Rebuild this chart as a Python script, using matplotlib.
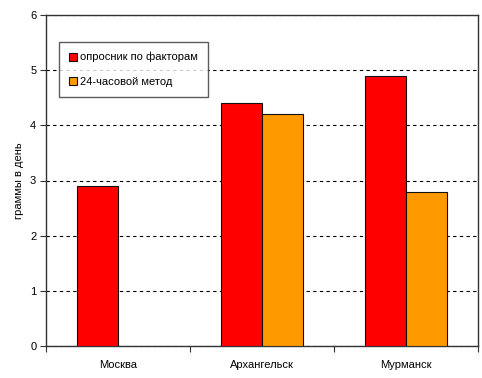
"""Bar chart: grams per day by city, two methods"""
import numpy as np
import matplotlib as mat
mat.use('agg')
import matplotlib.pyplot as plt

plt.rcParams['font.family'] = ['Liberation Sans', 'DejaVu Sans']

cities = ['Москва', 'Архангельск', 'Мурманск']
survey = [2.9, 4.4, 4.9]          # опросник по факторам
recall24 = [0, 4.2, 2.8]          # 24-часовой метод
yticks = [0, 1, 2, 3, 4, 5, 6]

fig = plt.figure(figsize=(4.82, 3.78), dpi=100)
ax = fig.add_axes([46 / 482, 1 - 346 / 378, 432 / 482, 331 / 378])

x = np.arange(len(cities))
w = 0.285
ax.bar(x - w / 2, survey, w, color='#FF0000', edgecolor='#111111',
       linewidth=0.8, label='опросник по факторам', zorder=3)
# Moscow has no 24-hour value, so draw only the cities that have one
ax.bar(x[1:] + w / 2, recall24[1:], w, color='#FF9900', edgecolor='#111111',
       linewidth=0.8, label='24-часовой метод', zorder=3)

ax.set_xlim(-0.5, 2.5)
ax.set_ylim(0, 6)
ax.set_yticks(yticks)
ax.set_xticks(x)
ax.set_xticklabels(cities, fontsize=8)
ax.tick_params(axis='x', length=0, pad=10)
ax.set_xticks([-0.5, 0.5, 1.5, 2.5], minor=True)
ax.tick_params(axis='x', which='minor', length=4, width=0.8, color='#333333')
ax.tick_params(axis='y', labelsize=8, length=4, width=0.8, color='#333333', pad=3)

for s in ax.spines.values():
    s.set_color('#333333')
    s.set_linewidth(1.0)

ax.yaxis.grid(True, linestyle=(0, (3, 3)), color='black', linewidth=0.8, zorder=0)
ax.set_axisbelow(True)

ax.set_ylabel('граммы в день', fontsize=8, labelpad=4)

leg = ax.legend(loc='upper left', bbox_to_anchor=(13 / 432, 1 - 27 / 331),
                fontsize=8, frameon=True, fancybox=False, handlelength=0.7,
                handleheight=0.7, handletextpad=0.3, labelspacing=1.3,
                borderpad=0.9, borderaxespad=0)
leg.get_frame().set_edgecolor('#333333')
leg.get_frame().set_linewidth(1.0)

fig.savefig('out.png', dpi=100)
